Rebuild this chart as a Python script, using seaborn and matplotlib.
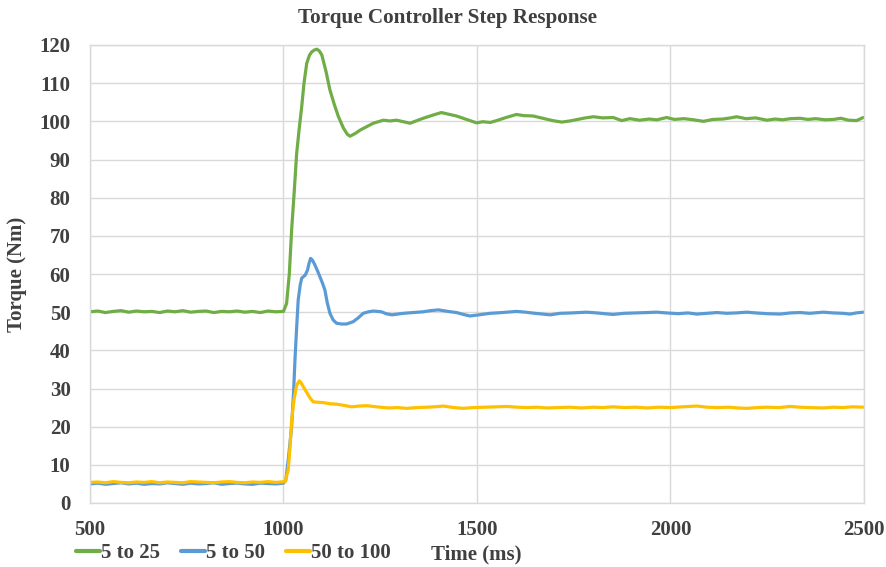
import matplotlib
matplotlib.use("Agg")
import matplotlib.pyplot as plt
import pandas as pd
import seaborn as sns

# --- measured torque traces (time in ms, torque in Nm) ---
time_25 = [500, 520, 540, 560, 580, 600, 620, 640, 660, 680, 700, 720, 740, 760, 780,
           800, 820, 840, 860, 880, 900, 920, 940, 960, 980, 1000,
           1008, 1015, 1021, 1028, 1034, 1040, 1047, 1053, 1060, 1067, 1073, 1080, 1086,
           1092, 1099, 1110, 1120, 1131, 1142, 1155, 1165, 1172, 1185, 1198, 1215, 1232,
           1245, 1258, 1275, 1292, 1310, 1327, 1345, 1361, 1385, 1408, 1425, 1447, 1470,
           1499, 1515, 1534, 1551, 1575, 1602, 1620, 1645, 1670, 1695, 1719, 1740, 1760,
           1780, 1801, 1825, 1852, 1874, 1895, 1920, 1945, 1965, 1990, 2010, 2035, 2060,
           2085, 2110, 2135, 2155, 2171, 2195, 2220, 2249, 2270, 2290, 2310, 2335, 2355,
           2375, 2400, 2421, 2440, 2460, 2481, 2498]
torque_25 = [50.1, 50.3, 49.9, 50.2, 50.4, 50.0, 50.3, 50.1, 50.2, 49.9, 50.3, 50.1, 50.4,
             50.0, 50.2, 50.3, 49.9, 50.2, 50.1, 50.3, 50.0, 50.2, 49.9, 50.3, 50.1, 50.2,
             52.3, 60.0, 71.5, 82.0, 91.6, 97.5, 103.8, 110.0, 115.2, 117.3, 118.2, 118.7,
             118.9, 118.5, 117.4, 113.0, 108.2, 104.5, 101.2, 98.2, 96.6, 96.1, 96.8, 97.7,
             98.6, 99.5, 99.9, 100.3, 100.1, 100.3, 99.9, 99.5, 100.2, 100.8, 101.6, 102.3,
             101.9, 101.4, 100.6, 99.6, 99.9, 99.7, 100.2, 101.0, 101.8, 101.5, 101.4, 100.8,
             100.2, 99.8, 100.1, 100.5, 100.9, 101.2, 100.9, 101.0, 100.2, 100.7, 100.3,
             100.6, 100.4, 101.0, 100.5, 100.7, 100.4, 100.0, 100.5, 100.6, 100.9, 101.2,
             100.7, 100.9, 100.3, 100.6, 100.4, 100.7, 100.8, 100.5, 100.7, 100.4, 100.5,
             100.8, 100.3, 100.2, 101.0]

time_50 = [500, 520, 540, 560, 580, 600, 620, 640, 660, 680, 700, 720, 740, 760, 780,
           800, 820, 840, 860, 880, 900, 920, 940, 960, 980, 1000,
           1006, 1013, 1021, 1026, 1030, 1034, 1038, 1043, 1047, 1056, 1062, 1066, 1070,
           1075, 1081, 1088, 1094, 1100, 1107, 1113, 1120, 1128, 1137, 1150, 1163, 1180,
           1193, 1206, 1220, 1232, 1253, 1265, 1280, 1295, 1310, 1335, 1361, 1380, 1400,
           1425, 1447, 1465, 1482, 1505, 1534, 1565, 1602, 1625, 1650, 1689, 1715, 1745,
           1783, 1810, 1830, 1852, 1880, 1910, 1940, 1964, 1990, 2020, 2045, 2068, 2095,
           2120, 2145, 2170, 2197, 2220, 2250, 2283, 2310, 2335, 2360, 2395, 2420, 2445,
           2464, 2480, 2498]
torque_50 = [5.0, 5.2, 4.9, 5.1, 5.3, 5.0, 5.2, 4.9, 5.1, 5.0, 5.3, 5.1, 4.9, 5.2, 5.0,
             5.1, 5.3, 4.9, 5.1, 5.2, 5.0, 4.9, 5.2, 5.1, 5.0, 5.2,
             6.0, 12.0, 20.0, 29.0, 38.3, 46.0, 53.2, 57.0, 58.9, 59.7, 61.0, 62.8, 64.1,
             63.6, 62.4, 60.8, 59.3, 57.8, 55.8, 52.5, 49.7, 48.0, 47.1, 46.9, 46.9, 47.5,
             48.5, 49.7, 50.1, 50.3, 50.1, 49.6, 49.3, 49.5, 49.7, 49.9, 50.1, 50.4, 50.6,
             50.2, 49.9, 49.4, 49.0, 49.3, 49.7, 49.9, 50.2, 50.0, 49.7, 49.3, 49.7, 49.8,
             50.0, 49.8, 49.6, 49.4, 49.7, 49.8, 49.9, 50.0, 49.8, 49.6, 49.8, 49.5, 49.7,
             49.9, 49.7, 49.8, 50.0, 49.8, 49.6, 49.5, 49.8, 49.9, 49.7, 50.0, 49.8, 49.7,
             49.5, 49.8, 50.0]

time_100 = [500, 520, 540, 560, 580, 600, 620, 640, 660, 680, 700, 720, 740, 760, 780,
            800, 820, 840, 860, 880, 900, 920, 940, 960, 980, 1004,
            1012, 1017, 1021, 1027, 1034, 1041, 1046, 1051, 1058, 1064, 1070, 1077, 1090,
            1103, 1120, 1137, 1155, 1176, 1195, 1215, 1240, 1271, 1295, 1318, 1345, 1370,
            1390, 1413, 1440, 1465, 1490, 1520, 1550, 1577, 1605, 1630, 1655, 1680, 1710,
            1740, 1770, 1800, 1825, 1852, 1880, 1910, 1940, 1970, 2000, 2030, 2068, 2095,
            2120, 2150, 2175, 2197, 2225, 2250, 2280, 2309, 2335, 2360, 2395, 2420, 2445,
            2470, 2498]
torque_100 = [5.4, 5.5, 5.3, 5.6, 5.4, 5.3, 5.5, 5.4, 5.6, 5.3, 5.5, 5.4, 5.3, 5.6, 5.5,
              5.4, 5.3, 5.5, 5.6, 5.4, 5.3, 5.5, 5.4, 5.6, 5.4, 5.6,
              8.6, 14.7, 21.7, 27.0, 30.9, 32.0, 31.4, 30.5, 29.3, 28.3, 27.3, 26.5, 26.4,
              26.3, 26.0, 25.9, 25.6, 25.2, 25.4, 25.5, 25.2, 24.9, 25.0, 24.8, 25.0, 25.1,
              25.2, 25.4, 25.0, 24.8, 25.0, 25.1, 25.2, 25.3, 25.1, 25.0, 25.1, 24.9, 25.0,
              25.1, 24.9, 25.1, 25.0, 25.2, 25.0, 25.1, 24.9, 25.1, 25.0, 25.2, 25.4, 25.1,
              25.0, 25.1, 24.9, 24.8, 25.0, 25.1, 25.0, 25.3, 25.1, 25.0, 24.9, 25.1, 25.0,
              25.2, 25.1]

series_labels = ["5 to 25", "5 to 50", "50 to 100"]
series_colors = ["#70AD47", "#5B9BD5", "#FFC000"]

x_ticks = [500, 1000, 1500, 2000, 2500]
y_ticks = list(range(0, 121, 10))

frames = []
for label, t, v in zip(series_labels, [time_25, time_50, time_100],
                       [torque_25, torque_50, torque_100]):
    frames.append(pd.DataFrame({"Time": t, "Torque": v, "Series": label}))
df = pd.concat(frames, ignore_index=True)

sns.set_style("white")
plt.rcParams["font.family"] = ["Liberation Serif", "DejaVu Serif"]
plt.rcParams["font.weight"] = "bold"

text_color = "#404040"
grid_color = "#D9D9D9"
font_size = 15

fig = plt.figure(figsize=(8.87, 5.67), dpi=100)
ax = fig.add_axes([90 / 887, 1 - 503 / 567, 774 / 887, 458 / 567])

sns.lineplot(data=df, x="Time", y="Torque", hue="Series", hue_order=series_labels,
             palette=series_colors, estimator=None, sort=False, linewidth=2.3,
             ax=ax, legend=True)

ax.set_xlim(500, 2500)
ax.set_ylim(0, 120)
ax.set_xticks(x_ticks)
ax.set_yticks(y_ticks)
ax.grid(True, color=grid_color, linewidth=1)
ax.set_axisbelow(True)
for s in ax.spines.values():
    s.set_color(grid_color)
    s.set_linewidth(1)

ax.tick_params(axis="both", length=0, labelsize=font_size, labelcolor=text_color)
ax.tick_params(axis="y", pad=14)
ax.tick_params(axis="x", pad=12)
for lbl in ax.get_xticklabels() + ax.get_yticklabels():
    lbl.set_fontweight("bold")

ax.set_ylabel("Torque (Nm)", fontsize=font_size, fontweight="bold", color=text_color)
ax.yaxis.set_label_coords(-0.081, 0.5)
ax.set_xlabel("Time (ms)", fontsize=font_size, fontweight="bold", color=text_color)
ax.xaxis.set_label_coords(0.499, -0.090)

fig.text(0.505, 1 - 18 / 567, "Torque Controller Step Response", ha="center",
         va="center", fontsize=15.2, fontweight="bold", color=text_color)

handles, labels = ax.get_legend_handles_labels()
ax.get_legend().remove()
leg = fig.legend(handles, labels, loc="center left",
                 bbox_to_anchor=(76 / 887, 1 - 553 / 567), ncol=3, frameon=False,
                 handlelength=1.15, handletextpad=0.05, columnspacing=1.0,
                 borderpad=0, borderaxespad=0,
                 prop={"size": font_size, "weight": "bold"})
for line in leg.get_lines():
    line.set_linewidth(3)
for t in leg.get_texts():
    t.set_color(text_color)

fig.savefig("out.png", dpi=100)
